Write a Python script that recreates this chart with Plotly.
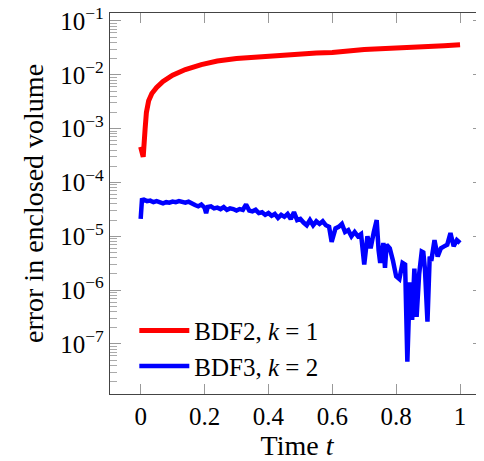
import plotly.graph_objects as go

# ---- data ----
red_t = [0.0, 0.008, 0.014, 0.018, 0.025, 0.035, 0.05, 0.07, 0.1, 0.14, 0.19, 0.24, 0.30,
         0.35, 0.40, 0.45, 0.50, 0.55, 0.60, 0.65, 0.70, 0.75, 0.80, 0.85, 0.90, 0.95, 1.0]
red_err = [4.6e-4, 3.0e-4, 1.0e-3, 2.0e-3, 3.3e-3, 4.5e-3, 5.8e-3, 7.5e-3, 9.8e-3, 1.25e-2,
           1.55e-2, 1.8e-2, 2.0e-2, 2.1e-2, 2.3e-2, 2.35e-2, 2.45e-2, 2.55e-2, 2.6e-2,
           2.8e-2, 2.95e-2, 3.05e-2, 3.1e-2, 3.25e-2, 3.35e-2, 3.45e-2, 3.6e-2]

blue_t = [0.0, 0.004, 0.01, 0.02, 0.03, 0.04, 0.05, 0.06, 0.07, 0.08, 0.09, 0.10, 0.11, 0.12,
          0.13, 0.14, 0.15, 0.16, 0.17, 0.18, 0.19, 0.20, 0.205, 0.21, 0.22, 0.23, 0.24, 0.25,
          0.26, 0.27, 0.28, 0.29, 0.30, 0.31, 0.32, 0.33, 0.34, 0.35, 0.36, 0.37, 0.38, 0.39,
          0.40, 0.41, 0.42, 0.43, 0.44, 0.45, 0.46, 0.47, 0.48, 0.49, 0.50, 0.51, 0.52, 0.53,
          0.54, 0.55, 0.56, 0.57, 0.58, 0.59, 0.598, 0.61, 0.62, 0.63, 0.64, 0.65, 0.66, 0.67,
          0.68, 0.69, 0.70, 0.71, 0.72, 0.73, 0.739, 0.745, 0.75, 0.76, 0.765, 0.77, 0.78,
          0.79, 0.80, 0.81, 0.82, 0.828, 0.835, 0.843, 0.85, 0.857, 0.864, 0.872, 0.88, 0.885,
          0.89, 0.898, 0.905, 0.91, 0.92, 0.93, 0.94, 0.95, 0.96, 0.97, 0.975, 0.98, 0.99, 1.0]
blue_err = [2.1e-5, 4.7e-5, 4.8e-5, 4.5e-5, 4.6e-5, 4.3e-5, 4.5e-5, 4.2e-5, 4.1e-5, 4.3e-5,
            4.2e-5, 4.4e-5, 4.3e-5, 4.5e-5, 4.4e-5, 4.2e-5, 4.4e-5, 4.0e-5, 3.8e-5, 3.6e-5,
            3.9e-5, 3.4e-5, 2.7e-5, 3.5e-5, 3.6e-5, 3.3e-5, 3.4e-5, 3.2e-5, 3.5e-5, 3.1e-5,
            3.3e-5, 3.2e-5, 3.0e-5, 3.2e-5, 3.1e-5, 3.9e-5, 3.0e-5, 2.9e-5, 3.1e-5, 2.7e-5,
            2.8e-5, 2.5e-5, 2.7e-5, 2.4e-5, 2.6e-5, 2.2e-5, 2.5e-5, 2.3e-5, 2.6e-5, 2.1e-5,
            2.8e-5, 2.0e-5, 2.1e-5, 1.8e-5, 1.6e-5, 2.0e-5, 1.6e-5, 1.9e-5, 1.7e-5, 1.9e-5,
            1.6e-5, 1.5e-5, 7.9e-6, 1.4e-5, 1.5e-5, 1.7e-5, 1.2e-5, 1.3e-5, 1.0e-5, 1.2e-5,
            1.0e-5, 1.1e-5, 3.0e-6, 1.0e-5, 6.0e-6, 1.2e-5, 2.0e-5, 5.5e-6, 3.2e-6, 7.5e-6,
            2.6e-6, 7.0e-6, 6.0e-6, 3.5e-6, 1.8e-6, 1.6e-6, 3.2e-6, 3.0e-6, 4.7e-8, 1.4e-6,
            2.8e-7, 2.5e-6, 3.2e-7, 2.0e-6, 5.2e-6, 5.0e-6, 2.5e-6, 2.6e-7, 4.2e-6, 3.5e-6,
            8.5e-6, 4.2e-6, 6.0e-6, 6.5e-6, 7.0e-6, 1.15e-5, 8.0e-6, 6.5e-6, 8.5e-6, 7.5e-6]

x_ticks = [0, 0.2, 0.4, 0.6, 0.8, 1]
x_labels = ["0", "0.2", "0.4", "0.6", "0.8", "1"]
y_exps = [-7, -6, -5, -4, -3, -2, -1]

FONT = "Liberation Serif, Times New Roman, serif"

y_tickvals = [10.0 ** e for e in y_exps]
y_ticktext = ["10<sup>\u2212%d</sup>" % (-e) for e in y_exps]
y_minor = [m * 10.0 ** e for e in range(-8, -1 + 1) for m in range(2, 10)]

fig = go.Figure()
fig.add_trace(go.Scatter(x=red_t, y=red_err, mode="lines", name="BDF2, <i>k</i> = 1",
                         line=dict(color="#ff0000", width=5)))
fig.add_trace(go.Scatter(x=blue_t, y=blue_err, mode="lines", name="BDF3, <i>k</i> = 2",
                         line=dict(color="#0000ff", width=4.5)))

# page body adds an 8px offset, so the figure is sized/placed to compensate
fig.update_layout(
    width=476, height=453,
    margin=dict(l=102, r=0, t=5, b=67, autoexpand=False),
    paper_bgcolor="white", plot_bgcolor="white",
    font=dict(family=FONT, size=25, color="black"),
    showlegend=True,
    legend=dict(x=0.065, y=0.014, xanchor="left", yanchor="bottom",
                bgcolor="rgba(0,0,0,0)", borderwidth=0, itemwidth=50,
                font=dict(family=FONT, size=25, color="black"), tracegroupgap=0),
)
fig.update_xaxes(
    range=[-0.096, 1.075], showgrid=False, zeroline=False,
    showline=True, linecolor="#444444", linewidth=1.3, mirror="allticks",
    ticks="inside", ticklen=10, tickcolor="#999999", tickwidth=1,
    tickvals=x_ticks, ticktext=x_labels,
    tickfont=dict(family=FONT, size=25, color="black"),
    title=dict(text="Time <i>t</i>", font=dict(family=FONT, size=28, color="black"), standoff=6),
)
fig.update_yaxes(
    type="log", range=[-7.93, -0.852], showgrid=False, zeroline=False,
    showline=True, linecolor="#444444", linewidth=1.3, mirror="allticks",
    ticks="inside", ticklen=11, tickcolor="#999999", tickwidth=1,
    tickvals=y_tickvals, ticktext=y_ticktext, ticklabeloverflow="allow",
    tickfont=dict(family=FONT, size=25, color="black"),
    minor=dict(ticks="inside", ticklen=7, tickcolor="#aaaaaa", tickwidth=1,
               tickvals=y_minor, showgrid=False),
    title=dict(text="error in enclosed volume", font=dict(family=FONT, size=28, color="black"),
               standoff=8),
)

fig.write_html("out.html")
